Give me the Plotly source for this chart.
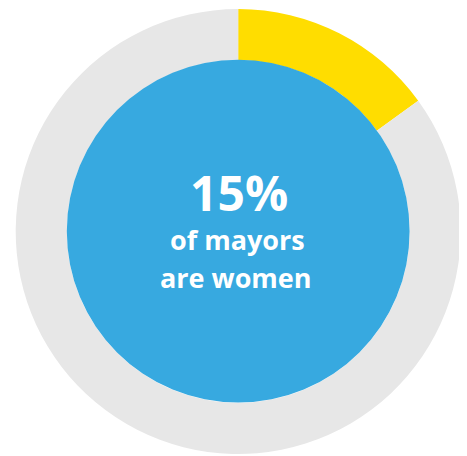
import plotly.graph_objects as go

# Data
labels = ["Women", "Men"]
values = [15, 85]
ring_colors = ["#FFDD00", "#E7E7E7"]
headline = "15%"
subline1 = "of mayors"
subline2 = "are women"

# The page body has an 8px default margin, so the figure is drawn 8px in.
OFF = 8
W, H = 467 - OFF, 456 - OFF

def px(x):
    return (x - OFF) / W

def py(y):
    return 1 - (y - OFF) / H

fig = go.Figure()

# Outer ring (share of women mayors)
fig.add_trace(go.Pie(
    labels=labels, values=values, sort=False, direction="clockwise", rotation=0,
    hole=0.77, marker=dict(colors=ring_colors, line=dict(width=0)),
    textinfo="none", hoverinfo="label+percent", showlegend=False,
    domain=dict(x=[px(15.7), px(460.7)], y=[py(454), py(9)]),
))

# Inner blue disc
fig.add_trace(go.Pie(
    labels=["All mayors"], values=[100], sort=False,
    marker=dict(colors=["#37A9E0"], line=dict(width=0)),
    textinfo="none", hoverinfo="skip", showlegend=False,
    domain=dict(x=[px(66.8), px(409.6)], y=[py(402.6), py(59.8)]),
))

fig.add_annotation(text=headline, x=px(238.7), y=py(192.5), xref="paper", yref="paper",
                   showarrow=False, xanchor="center", yanchor="middle",
                   font=dict(family="Open Sans", size=48, color="white", weight=700))
fig.add_annotation(text=subline1, x=px(237.5), y=py(239.5), xref="paper", yref="paper",
                   showarrow=False, xanchor="center", yanchor="middle",
                   font=dict(family="Open Sans", size=27, color="white", weight=700))
fig.add_annotation(text=subline2, x=px(235.5), y=py(277.5), xref="paper", yref="paper",
                   showarrow=False, xanchor="center", yanchor="middle",
                   font=dict(family="Open Sans", size=27, color="white", weight=700))

fig.update_layout(width=W, height=H, margin=dict(l=0, r=0, t=0, b=0),
                  paper_bgcolor="white", plot_bgcolor="white")

fig.write_html("out.html")
